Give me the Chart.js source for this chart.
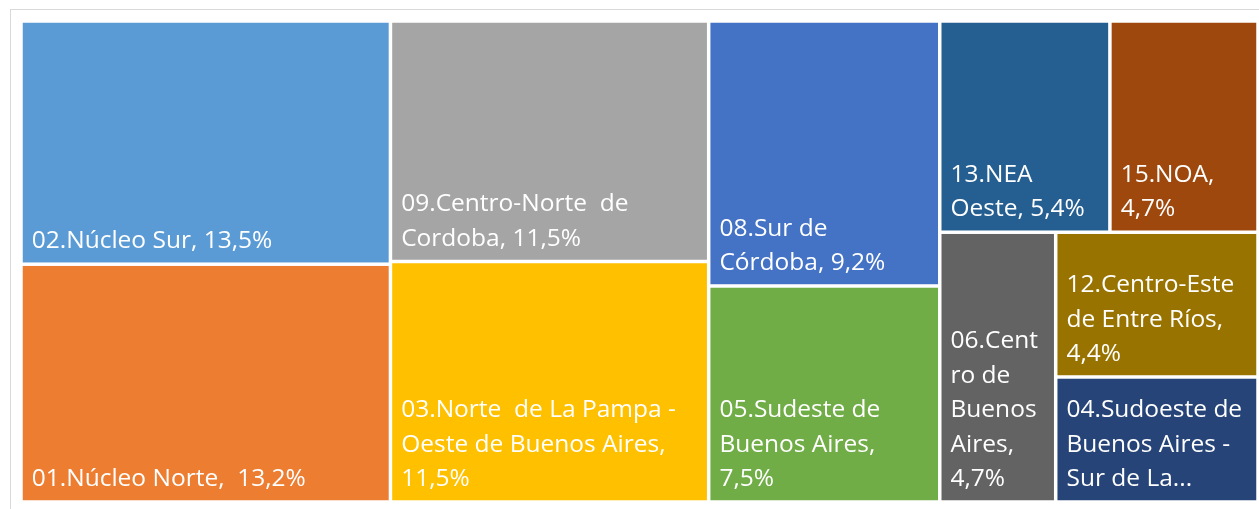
<!DOCTYPE html>
<html>
<head>
<meta charset="utf-8">
<script src="https://cdn.jsdelivr.net/npm/chart.js@4/dist/chart.umd.min.js"></script>
<style>
  html, body { margin: 0; padding: 0; background: #ffffff; }
  canvas { display: block; }
</style>
</head>
<body>
<canvas id="c" width="1259" height="509"></canvas>
<script>
// ---- data ----
const regions = [
  "02.Núcleo Sur", "01.Núcleo Norte", "09.Centro-Norte de Cordoba",
  "03.Norte de La Pampa - Oeste de Buenos Aires", "08.Sur de Córdoba",
  "05.Sudeste de Buenos Aires", "13.NEA Oeste", "15.NOA",
  "06.Centro de Buenos Aires", "12.Centro-Este de Entre Ríos",
  "04.Sudoeste de Buenos Aires - Sur de La Pampa"
];
const shares = [13.5, 13.2, 11.5, 11.5, 9.2, 7.5, 5.4, 4.7, 4.7, 4.4, 3.8];
// label text as shown (line breaks as in the picture), {v} = formatted share
const labelTemplates = [
  "02.Núcleo Sur, {v}",
  "01.Núcleo Norte,  {v}",
  "09.Centro-Norte  de\nCordoba, {v}",
  "03.Norte  de La Pampa -\nOeste de Buenos Aires,\n{v}",
  "08.Sur de\nCórdoba, {v}",
  "05.Sudeste de\nBuenos Aires,\n{v}",
  "13.NEA\nOeste, {v}",
  "15.NOA,\n{v}",
  "06.Cent\nro de\nBuenos\nAires,\n{v}",
  "12.Centro-Este\nde Entre Ríos,\n{v}",
  "04.Sudoeste de\nBuenos Aires -\nSur de La..."
];
const palette = ["#5B9BD5", "#ED7D31", "#A5A5A5", "#FFC000", "#4472C4", "#70AD47",
                 "#255E91", "#9E480E", "#636363", "#997300", "#264478"];

function fmt(v) { return v.toFixed(1).replace(".", ",") + "%"; }

// squarified layout (strip closed once it is "square enough")
function worstRatio(row, side, unit) {
  const s = row.reduce((a, b) => a + b, 0) * unit;
  const t = s / side;
  let worst = 0;
  for (const v of row) {
    const l = v * unit / t;
    worst = Math.max(worst, Math.max(l / t, t / l));
  }
  return worst;
}
function squarify(vals, x, y, w, h) {
  const total = vals.reduce((a, b) => a + b, 0);
  const unit = (w * h) / total;
  const out = [];
  let i = 0;
  const CLOSE = 2.45;
  while (i < vals.length) {
    const side = Math.min(w, h);
    let row = [vals[i]];
    let worst = worstRatio(row, side, unit);
    let j = i + 1;
    while (worst > CLOSE && j < vals.length) {
      const cand = row.concat(vals[j]);
      const cw = worstRatio(cand, side, unit);
      if (cw <= worst) { row = cand; worst = cw; j++; } else break;
    }
    const rowArea = row.reduce((a, b) => a + b, 0) * unit;
    if (w >= h) {
      const t = rowArea / h;
      let yy = y;
      row.forEach(v => { const hh = v * unit / t; out.push({x: x, y: yy, w: t, h: hh}); yy += hh; });
      x += t; w -= t;
    } else {
      const t = rowArea / w;
      let xx = x;
      row.forEach(v => { const ww = v * unit / t; out.push({x: xx, y: y, w: ww, h: t}); xx += ww; });
      y += t; h -= t;
    }
    i = j;
  }
  return out;
}

const treemapPlugin = {
  id: 'treemapTiles',
  beforeDraw(chart) {
    const ctx = chart.ctx;
    ctx.save();
    ctx.fillStyle = '#ffffff';
    ctx.fillRect(0, 0, chart.width, chart.height);
    ctx.strokeStyle = '#D9D9D9';
    ctx.lineWidth = 1;
    ctx.strokeRect(10.5, 9.5, chart.width + 20, chart.height + 20);
    ctx.restore();
  },
  afterDatasetsDraw(chart) {
    const ctx = chart.ctx;
    const xs = chart.scales.x, ys = chart.scales.y;
    const x0 = xs.getPixelForValue(0), x1 = xs.getPixelForValue(1);
    const y0 = ys.getPixelForValue(1), y1 = ys.getPixelForValue(0);
    const rects = squarify(shares, x0, y0, x1 - x0, y1 - y0);
    const inset = 1.75;
    ctx.save();
    rects.forEach((r, k) => {
      const rx = r.x + inset, ry = r.y + inset, rw = r.w - 2 * inset, rh = r.h - 2 * inset;
      ctx.fillStyle = palette[k];
      ctx.fillRect(rx, ry, rw, rh);
      const lines = labelTemplates[k].replace("{v}", fmt(shares[k])).split("\n");
      ctx.fillStyle = '#ffffff';
      ctx.font = '24.5px "Open Sans"';
      ctx.textBaseline = 'alphabetic';
      ctx.textAlign = 'left';
      const lh = 34.5;
      const base = ry + rh - 14;
      lines.forEach((ln, li) => {
        ctx.fillText(ln, rx + 9, base - (lines.length - 1 - li) * lh);
      });
    });
    ctx.restore();
  }
};

new Chart(document.getElementById('c'), {
  type: 'scatter',
  data: { datasets: [{ label: 'share', data: [], pointRadius: 0 }] },
  options: {
    responsive: false,
    animation: false,
    devicePixelRatio: 1,
    layout: { padding: { left: 21, top: 21, right: 1, bottom: 7 } },
    plugins: { legend: { display: false }, tooltip: { enabled: false } },
    scales: {
      x: { type: 'linear', min: 0, max: 1, display: false },
      y: { type: 'linear', min: 0, max: 1, display: false }
    }
  },
  plugins: [treemapPlugin]
});
</script>
</body>
</html>
